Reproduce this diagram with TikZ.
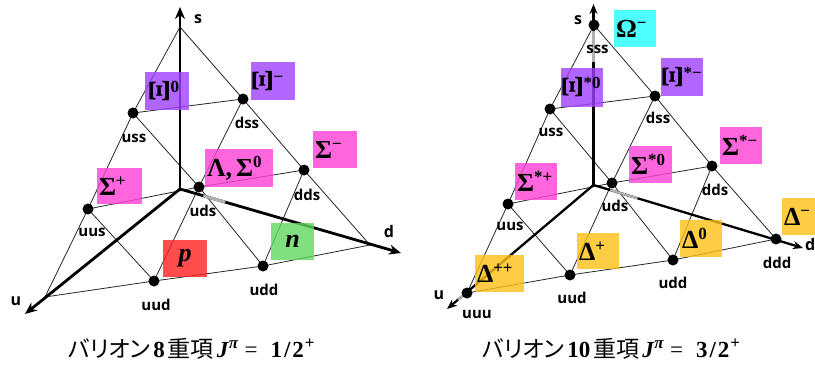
\documentclass[tikz,border=0pt]{standalone}
\usepackage{fontspec}
\usepackage{graphicx}
\setmainfont{Liberation Serif}
\newfontfamily\lblfont{Open Sans}
\newfontfamily\cjkfont{Noto Sans CJK JP}[RawFeature=+palt]
\usetikzlibrary{arrows.meta,calc}
\definecolor{cpurple}{RGB}{160,64,255}
\definecolor{cpink}{RGB}{255,64,212}
\definecolor{cred}{RGB}{255,32,32}
\definecolor{cgreen}{RGB}{96,216,96}
\definecolor{ccyan}{RGB}{32,255,255}
\definecolor{cyellow}{RGB}{255,191,21}
\newcommand{\sps}[1]{\raisebox{9pt}{\fontsize{17}{17}\selectfont #1}}
\newcommand{\rXi}{\raisebox{-1pt}{\scalebox{1.15}[1.3]{\rotatebox{90}{\fontsize{26}{26}\selectfont Ξ}}}\hspace{1pt}}
\tikzset{
  gridline/.style={draw=black!85, line width=0.8pt},
  axisL/.style={line width=2.8pt, -{Stealth[length=12pt,width=10pt]}},
  axisR/.style={line width=2.3pt, -{Stealth[length=10pt,width=8pt]}},
  hidL/.style={draw=black!30, line width=2.8pt},
  hidR/.style={draw=black!30, line width=2.3pt},
  qdot/.style={circle, fill=black, inner sep=0pt, minimum size=11pt},
  qlab/.style={font=\lblfont\bfseries\fontsize{15}{15}\selectfont, anchor=base, inner sep=0pt},
  alab/.style={font=\lblfont\bfseries\fontsize{16}{16}\selectfont, anchor=base, inner sep=0pt},
  pbox/.style={rectangle, inner xsep=2pt, inner ysep=0pt, fill opacity=0.8, text opacity=1, align=left, font=\bfseries\fontsize{26}{26}\selectfont},
  capt/.style={anchor=base west, inner sep=0pt, font=\fontsize{23}{23}\selectfont}
}
\begin{document}
\begin{tikzpicture}[x=1pt,y=-1pt]
\useasboundingbox (0,0) rectangle (815,367);
% ---------- left coordinates
\coordinate (LO) at (180,189);
\coordinate (Lstip) at (180,7);
\coordinate (Lutip) at (25,314);
\coordinate (Ldtip) at (401,253);
\coordinate (LS) at (180,27);
\coordinate (LU) at (45,297);
\coordinate (LD) at (370,245);
\coordinate (Luss) at (133,113);
\coordinate (Ldss) at (243,99);
\coordinate (Luus) at (88,209);
\coordinate (Luud) at (154,281);
\coordinate (Ludd) at (263,266);
\coordinate (Ldds) at (304,170);
\coordinate (Luds) at (199,187);
% ---------- right coordinates
\coordinate (RO) at (593.5,185);
\coordinate (Rstip) at (593.5,4);
\coordinate (Rutip) at (447,309);
\coordinate (Rdtip) at (803,248);
\coordinate (RS) at (594,25);
\coordinate (RU) at (467,293);
\coordinate (RD) at (776,239);
\coordinate (Russ) at (550,109);
\coordinate (Rdss) at (655,96);
\coordinate (Ruus) at (508,204);
\coordinate (Ruud) at (570,275);
\coordinate (Rudd) at (673,260);
\coordinate (Rdds) at (712,166);
\coordinate (Ruds) at (612,183);
% ---------- grid lines
\foreach \p in {L,R}{
  \draw[gridline] (\p S) -- (\p uss) -- (\p uus) -- (\p U) -- (\p uud) -- (\p udd) -- (\p D) -- (\p dds) -- (\p dss) -- cycle;
  \draw[gridline] (\p uss) -- (\p dss);
  \draw[gridline] (\p uus) -- (\p uds) -- (\p dds);
  \draw[gridline] (\p dss) -- (\p uds) -- (\p uud);
  \draw[gridline] (\p dds) -- (\p udd);
  \draw[gridline] (\p uss) -- (\p uds) -- (\p udd);
  \draw[gridline] (\p uus) -- (\p uud);
}
% ---------- axes
\draw[axisL] (LO) -- (Lstip);
\draw[axisL] (LO) -- (Lutip);
\draw[axisL] (LO) -- (Ldtip);
\draw[hidL] ($(LO)!0.105!(Ldtip)$) -- ($(LO)!0.205!(Ldtip)$);
\draw[axisR] (RO) -- (Rstip);
\draw[axisR] (RO) -- (Rutip);
\draw[axisR] (RO) -- (Rdtip);
\draw[hidR] ($(RO)!0.08!(Rdtip)$) -- ($(RO)!0.21!(Rdtip)$);
\draw[hidR] ($(RO)!0.68!(Rstip)$) -- ($(RO)!0.85!(Rstip)$);
\draw[hidR] ($(RO)!0.87!(Rutip)$) -- ($(RO)!0.925!(Rutip)$);
% ---------- axis labels
\node[alab] (Lsl) at (198,23) {s};
\node[alab] (Ldl) at (389,237) {d};
\node[alab] (Lul) at (16,305) {u};
\node[alab] (Rsl) at (578,24) {s};
\node[alab] (Rul) at (439,299) {u};
\node[alab, anchor=base west] (Rdl) at (805,250) {d};
% ---------- coloured boxes, left
\node[pbox, fill=cpurple, text width=40pt, minimum height=38pt] (LXi0) at (167,91) {\mbox{\hspace{3pt}\rXi\sps{0}}};
\node[pbox, fill=cpurple, text width=40pt, minimum height=38pt] (LXim) at (273,81) {\mbox{\rXi\sps{−}}};
\node[pbox, fill=cpink, text width=40pt, minimum height=37pt] (LSm) at (335,149.5) {\mbox{Σ\sps{−}}};
\node[pbox, fill=cpink, text width=64pt, minimum height=38pt] (LLS0) at (239,168) {\mbox{Λ,\hspace{4pt}Σ\sps{0}}};
\node[pbox, fill=cpink, text width=41pt, minimum height=36pt] (LSp) at (119.5,186) {\mbox{Σ\sps{+}}};
\node[pbox, fill=cred, text width=40pt, minimum height=37pt, align=center] (Lp) at (185,258.5) {\textit{p}};
\node[pbox, fill=cgreen, text width=39pt, minimum height=37pt, align=center] (Ln) at (292.5,241.5) {\textit{n}};
% ---------- coloured boxes, right
\node[pbox, fill=ccyan, text width=38pt, minimum height=37pt] (ROm) at (635,28.5) {\mbox{Ω\sps{−}}};
\node[pbox, fill=cpurple, text width=38pt, minimum height=39pt] (RXs0) at (582,87.5) {\mbox{\rXi\sps{*0}}};
\node[pbox, fill=cpurple, text width=38pt, minimum height=38pt] (RXsm) at (682,77) {\mbox{\rXi\sps{*−}}};
\node[pbox, fill=cpink, text width=38pt, minimum height=37pt] (RSsm) at (741,145.5) {\mbox{Σ\sps{*−}}};
\node[pbox, fill=cpink, text width=39pt, minimum height=37pt] (RSs0) at (650.5,164.5) {\mbox{Σ\sps{*0}}};
\node[pbox, fill=cpink, text width=38pt, minimum height=37pt] (RSsp) at (536,181.5) {\mbox{Σ\sps{*+}}};
\node[pbox, fill=cyellow, text width=45pt, minimum height=37pt] (RDpp) at (499.5,273.5) {\mbox{Δ\sps{++}}};
\node[pbox, fill=cyellow, text width=38pt, minimum height=36pt] (RDp) at (598,251) {\mbox{Δ\sps{+}}};
\node[pbox, fill=cyellow, text width=38pt, minimum height=37pt] (RD0) at (701,238.5) {\mbox{Δ\sps{0}}};
\node[pbox, fill=cyellow, text width=38pt, minimum height=37pt] (RDm) at (803,216.5) {\mbox{Δ\sps{−}}};
% ---------- dots
\foreach \q in {uss,dss,uus,uud,udd,dds,uds}{
  \node[qdot] (L\q-dot) at (L\q) {};
}
\foreach \q in {uss,dss,uus,uud,udd,dds,uds}{
  \node[qdot] (R\q-dot) at (R\q) {};
}
\node[qdot] (Rsss-dot) at (RS) {};
\node[qdot] (Ruuu-dot) at (RU) {};
\node[qdot] (Rddd-dot) at (RD) {};
% ---------- quark labels, left
\node[qlab] (Luss-l) at (134,142) {uss};
\node[qlab] (Ldss-l) at (247,128) {dss};
\node[qlab] (Ldds-l) at (307,200) {dds};
\node[qlab] (Luds-l) at (203,216.5) {uds};
\node[qlab] (Luus-l) at (92,236.5) {uus};
\node[qlab] (Luud-l) at (156,310) {uud};
\node[qlab] (Ludd-l) at (264,295) {udd};
% ---------- quark labels, right
\node[qlab] (Rsss-l) at (597.5,53.5) {sss};
\node[qlab] (Russ-l) at (551,136.5) {uss};
\node[qlab] (Rdss-l) at (658,123) {dss};
\node[qlab] (Rdds-l) at (715,195) {dds};
\node[qlab] (Ruds-l) at (615,211.5) {uds};
\node[qlab] (Ruus-l) at (510,230) {uus};
\node[qlab] (Ruud-l) at (572,303) {uud};
\node[qlab] (Rudd-l) at (673,288) {udd};
\node[qlab] (Rddd-l) at (777,268) {ddd};
\node[qlab] (Ruuu-l) at (477,318) {uuu};
% ---------- captions
\node[capt] (cap8) at (68,357) {{\cjkfont バリオン}\hspace{3pt}\textbf{8}\hspace{3pt}{\cjkfont 重項}\hspace{3pt}\textbf{\textit{J}}\sps{\textbf{\textit{π}}}\hspace{6pt}=\hspace{13pt}\textbf{1\hspace{2pt}/\hspace{2pt}2}\hspace{1pt}\sps{\textbf{+}}};
\node[capt] (cap10) at (482,357) {{\cjkfont バリオン}\hspace{3pt}\textbf{10}\hspace{3pt}{\cjkfont 重項}\hspace{3pt}\textbf{\textit{J}}\sps{\textbf{\textit{π}}}\hspace{6pt}=\hspace{13pt}\textbf{3\hspace{2pt}/\hspace{2pt}2}\hspace{1pt}\sps{\textbf{+}}};
\end{tikzpicture}
\end{document}
